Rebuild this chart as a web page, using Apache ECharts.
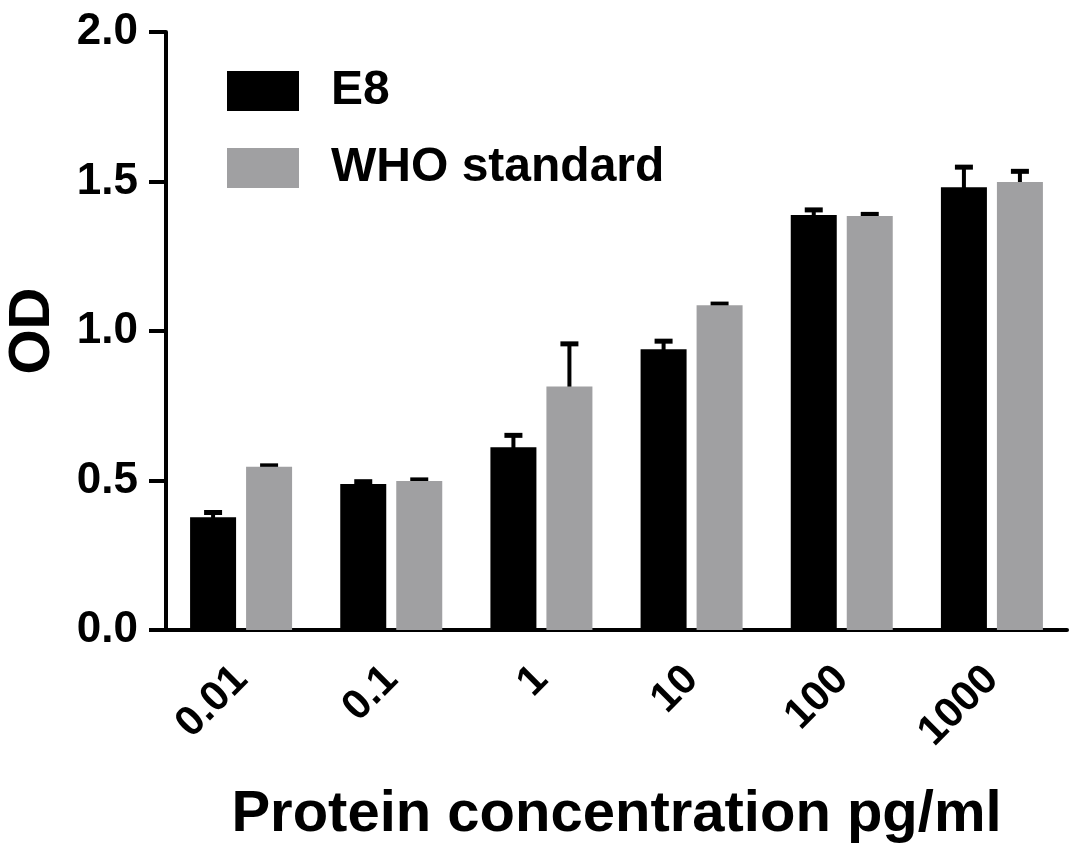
<!DOCTYPE html>
<html><head><meta charset="utf-8">
<script src="https://cdn.jsdelivr.net/npm/echarts@6/dist/echarts.min.js"></script>
<style>html,body{margin:0;padding:0;background:#fff}#c{width:1071px;height:856px}</style>
</head><body><div id="c"></div>
<script>
var categories = ['0.01', '0.1', '1', '10', '100', '1000'];
var e8Mean = [0.377, 0.488, 0.611, 0.939, 1.388, 1.481];
var e8Err = [0.016, 0.008, 0.040, 0.027, 0.017, 0.067];
var whoMean = [0.546, 0.498, 0.814, 1.086, 1.385, 1.498];
var whoErr = [0.003, 0.004, 0.143, 0.004, 0.005, 0.036];
var yTicks = [0, 0.5, 1.0, 1.5, 2.0];

var FONT = '"Liberation Sans", Arial, sans-serif';
var BLACK = '#000000', GRAY = '#a0a0a2';
var BAR_W = 46, BAR_GAP = 10;

function errData(mean, err) {
  return mean.map(function (m, i) { return [i, m, err[i]]; });
}
function errSeries(name, mean, err, side) {
  return {
    type: 'custom', name: name + ' err', data: errData(mean, err), z: 1,
    silent: true, legendHoverLink: false,
    renderItem: function (params, api) {
      var idx = api.value(0), m = api.value(1), e = api.value(2);
      var off = side * (BAR_W + BAR_GAP) / 2;
      var p0 = api.coord([idx, m]);
      var p1 = api.coord([idx, m + e]);
      var x = p0[0] + off;
      return {
        type: 'group', children: [
          { type: 'line', shape: { x1: x, y1: p0[1] + 4, x2: x, y2: p1[1] }, style: { stroke: BLACK, lineWidth: 4 } },
          { type: 'line', shape: { x1: x - 9, y1: p1[1], x2: x + 9, y2: p1[1] }, style: { stroke: BLACK, lineWidth: 5 } }
        ]
      };
    }
  };
}

var chart = echarts.init(document.getElementById('c'));
chart.setOption({
  animation: false,
  backgroundColor: '#fff',
  grid: { left: 166, right: 4, top: 32, bottom: 226, containLabel: false, outerBoundsMode: 'none' },
  legend: {
    data: ['E8', 'WHO standard'], orient: 'vertical', left: 227, top: 67, padding: 0,
    itemWidth: 72, itemHeight: 40, itemGap: 29, icon: 'rect',
    textStyle: { fontFamily: FONT, fontWeight: 'bold', fontSize: 48, color: '#000', lineHeight: 40, padding: [0, 0, 0, 27] }
  },
  xAxis: {
    type: 'category', data: categories, boundaryGap: true,
    name: 'Protein concentration pg/ml', nameLocation: 'middle', nameGap: 156,
    nameTextStyle: { fontFamily: FONT, fontWeight: 'bold', fontSize: 58, color: '#000' },
    axisLine: { lineStyle: { color: '#000', width: 4 } },
    axisTick: { alignWithLabel: true, length: 16, lineStyle: { color: '#000', width: 4 } },
    axisLabel: { rotate: 45, margin: 43, fontFamily: FONT, fontWeight: 'bold', fontSize: 42, color: '#000' }
  },
  yAxis: {
    type: 'value', min: 0, max: 2, interval: 0.5,
    name: 'OD', nameLocation: 'middle', nameGap: 104, nameRotate: 90,
    nameTextStyle: { fontFamily: FONT, fontWeight: 'bold', fontSize: 58, color: '#000' },
    axisLine: { show: true, lineStyle: { color: '#000', width: 4 } },
    axisTick: { show: true, length: 17, lineStyle: { color: '#000', width: 4 } },
    splitLine: { show: false },
    axisLabel: {
      margin: 28, fontFamily: FONT, fontWeight: 'bold', fontSize: 44, color: '#000',
      formatter: function (v) { return yTicks.indexOf(v) >= 0 ? v.toFixed(1) : ''; }
    }
  },
  series: [
    { name: 'E8', type: 'bar', data: e8Mean, barWidth: BAR_W, barGap: (BAR_GAP / BAR_W * 100) + '%', itemStyle: { color: BLACK }, z: 2 },
    { name: 'WHO standard', type: 'bar', data: whoMean, barWidth: BAR_W, itemStyle: { color: GRAY }, z: 2 },
    errSeries('E8', e8Mean, e8Err, -1),
    errSeries('WHO standard', whoMean, whoErr, 1)
  ]
});
</script></body></html>
